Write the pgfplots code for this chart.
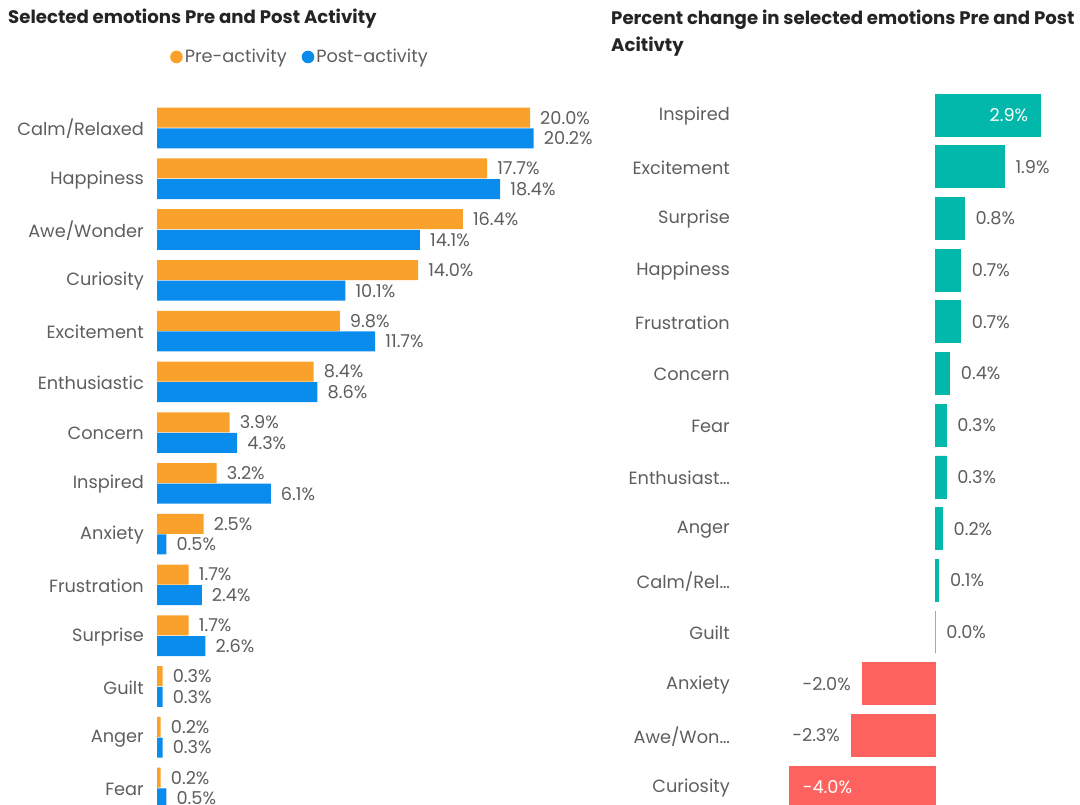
\documentclass[border=0pt]{standalone}
\usepackage{pgfplots}
\usepackage{pgfplotstable}
\pgfplotsset{compat=1.18}
\usepackage{fontspec}
\setmainfont{Poppins}
\definecolor{pre}{HTML}{F9A12A}
\definecolor{post}{HTML}{0A8CEC}
\definecolor{pos}{HTML}{01B8AA}
\definecolor{neg}{HTML}{FD625E}
\definecolor{lbl}{HTML}{605E5C}
\definecolor{ttl}{HTML}{252423}

\pgfplotstableread{
y pre post
0 0.2 0.5
1 0.2 0.3
2 0.3 0.3
3 1.7 2.6
4 1.7 2.4
5 2.5 0.5
6 3.2 6.1
7 3.9 4.3
8 8.4 8.6
9 9.8 11.7
10 14.0 10.1
11 16.4 14.1
12 17.7 18.4
13 20.0 20.2
}\leftdata

\pgfplotstableread{
y v
3 0.0
4 0.1
5 0.2
6 0.3
7 0.3
8 0.4
9 0.7
10 0.7
11 0.8
12 1.9
}\posout
\pgfplotstableread{
y v
13 2.9
}\posin
\pgfplotstableread{
y v
1 -2.3
2 -2.0
}\negout
\pgfplotstableread{
y v
0 -4.0
}\negin

\newcommand{\lblfont}{\fontsize{17.8}{21}\selectfont}
\begin{document}
\begin{tikzpicture}
\path[use as bounding box] (0,0) rectangle (1080bp,-805bp);
\node[anchor=west, text=ttl, font=\bfseries\fontsize{18.2}{21}\selectfont, inner sep=0pt] at (8bp,-19bp) {Selected emotions Pre and Post Activity};
\node[anchor=north west, text=ttl, font=\bfseries\fontsize{18.2}{27}\selectfont, inner sep=0pt, align=left] at (611bp,-10bp) {Percent change in selected emotions Pre and Post\\Acitivty};

\begin{axis}[
  at={(157bp,-102.6bp)}, anchor=north west,
  scale only axis, width=447.6bp, height=710.8bp,
  xmin=0, xmax=24, ymin=-0.5, ymax=13.5,
  axis line style={draw=none}, major tick length=0pt,
  xtick=\empty, ytick={0,...,13},
  yticklabels={Fear,Anger,Guilt,Surprise,Frustration,Anxiety,Inspired,Concern,Enthusiastic,Excitement,Curiosity,Awe/Wonder,Happiness,Calm/Relaxed},
  yticklabel style={font=\lblfont, text=lbl, inner sep=0pt, xshift=-13bp, yshift=-1bp},
  clip=false,
  xbar, bar width=20bp,
  point meta=x,
  nodes near coords={\pgfmathprintnumber[fixed,fixed zerofill,precision=1,assume math mode=true]{\pgfplotspointmeta}\%},
  every node near coord/.append style={font=\lblfont, text=lbl, anchor=west, inner sep=0pt, xshift=10bp},
  legend style={at={(0.029,1.0642)}, anchor=west, draw=none, fill=none, inner sep=0pt,
    font=\lblfont, text=lbl, legend cell align=left,
    /tikz/every even column/.append style={column sep=13bp}},
  legend columns=2,
  legend image code/.code={\fill[#1] (3bp,0bp) circle (6.3bp);},
]
\addplot[fill=pre, draw=none, bar shift=10.3bp] table[x=pre,y=y]{\leftdata};
\addplot[fill=post, draw=none, bar shift=-10.3bp] table[x=post,y=y]{\leftdata};
\legend{Pre-activity,Post-activity}
\end{axis}

\begin{axis}[
  at={(753bp,-89.15bp)}, anchor=north west,
  scale only axis, width=327.6bp, height=723.8bp,
  xmin=-5, xmax=4, ymin=-0.5, ymax=13.5,
  axis line style={draw=none}, major tick length=0pt,
  xtick=\empty, ytick={0,...,13},
  yticklabels={Curiosity,Awe/Won…,Anxiety,Guilt,Calm/Rel…,Anger,Enthusiast…,Fear,Concern,Frustration,Happiness,Surprise,Excitement,Inspired},
  yticklabel style={font=\lblfont, text=lbl, inner sep=0pt, xshift=-23bp, yshift=-1bp},
  clip=false,
  xbar, bar width=42bp, bar shift=0pt,
  point meta=x,
  nodes near coords={\pgfmathprintnumber[fixed,fixed zerofill,precision=1,assume math mode=true]{\pgfplotspointmeta}\%},
  every node near coord/.append style={font=\lblfont, inner sep=0pt},
]
\addplot[fill=pos, draw=pos, line width=0.8bp,
  every node near coord/.append style={anchor=west, text=lbl, xshift=11bp}] table[x=v,y=y]{\posout};
\addplot[fill=pos, draw=pos, line width=0.8bp,
  every node near coord/.append style={anchor=east, text=white, xshift=-12bp}] table[x=v,y=y]{\posin};
\addplot[fill=neg, draw=neg, line width=0.8bp,
  every node near coord/.append style={anchor=east, text=lbl, xshift=-11bp}] table[x=v,y=y]{\negout};
\addplot[fill=neg, draw=neg, line width=0.8bp,
  every node near coord/.append style={anchor=west, text=white, xshift=13bp}] table[x=v,y=y]{\negin};
\end{axis}
\end{tikzpicture}
\end{document}
